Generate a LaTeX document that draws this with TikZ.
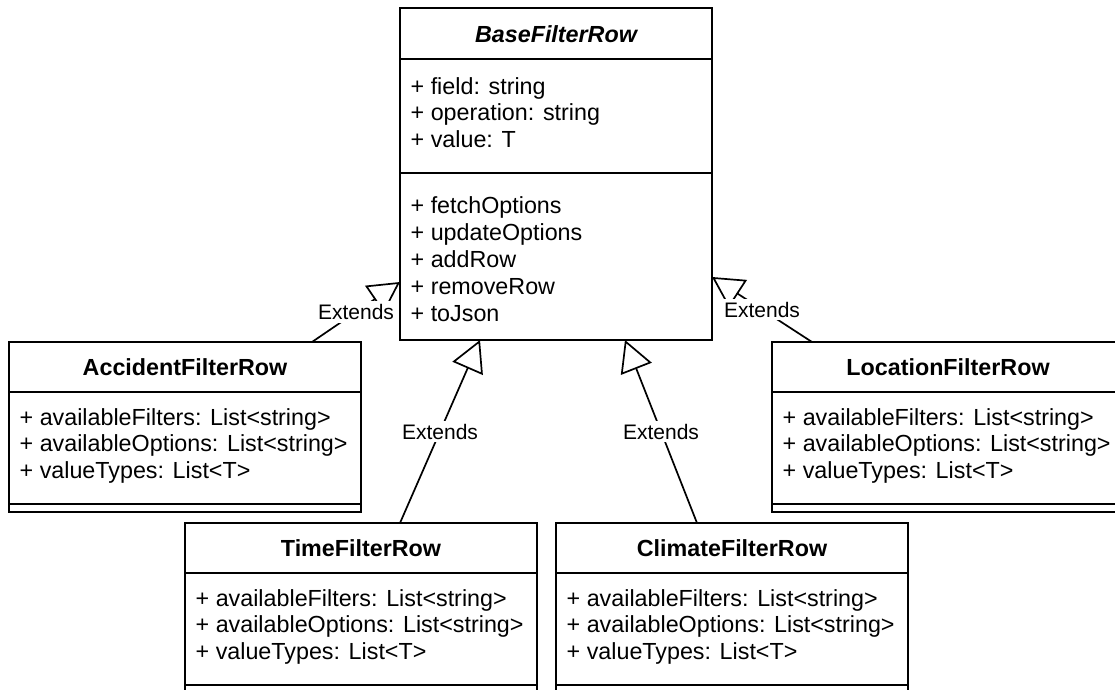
\documentclass[tikz,border=0pt]{standalone}
\usepackage{fontspec}
\setmainfont{Liberation Sans}
\usetikzlibrary{arrows.meta}

% one subclass box: name, x, y (top left), title
\newcommand\umlsub[4]{%
  \node[classbox] (#1) at (#2,#3) {};
  \draw[rule] (#1.north west) ++(0,50) -- ++(352,0);
  \draw[rule] (#1.north west) ++(0,162) -- ++(352,0);
  \path (#1.north) ++(0,33.5) node[ctitle] (#1-title) {#4};
  \path (#1.north west) ++(10.5,83) node[attr] (#1-a1) {+ availableFilters: List<string>}
        ++(0,26.8) node[attr] (#1-a2) {+ availableOptions: List<string>}
        ++(0,26.8) node[attr] (#1-a3) {+ valueTypes: List<T>};
}

\begin{document}
\begin{tikzpicture}[
  x=1pt, y=-1pt,
  rule/.style={line width=1.7pt},
  classbox/.style={draw, line width=1.7pt, rectangle, inner sep=0pt, outer sep=0pt,
    anchor=north west, minimum width=352pt, minimum height=170pt},
  ctitle/.style={anchor=base, inner sep=0pt, font=\fontsize{23.3}{26.8}\selectfont\bfseries},
  attr/.style={anchor=base west, inner sep=0pt, font=\fontsize{23.3}{26.8}\selectfont},
  ext/.style={line width=1.7pt, -{Triangle[open, length=31pt, width=33pt]}},
  elabel/.style={fill=white, inner sep=3pt, font=\fontsize{21}{25}\selectfont},
]
\useasboundingbox (0,0) rectangle (1115,689);
\clip (0,0) rectangle (1115,689);

% abstract base class
\node[classbox, minimum width=312pt, minimum height=332pt] (base) at (400,8) {};
\draw[rule] (base.north west) ++(0,51) -- ++(312,0);
\draw[rule] (base.north west) ++(0,165) -- ++(312,0);
\path (base.north) ++(0,34.5) node[ctitle, font=\fontsize{23.3}{26.8}\selectfont\bfseries\itshape] (base-title) {BaseFilterRow};
\path (base.north west) ++(10.5,86) node[attr] (base-a1) {+ field: string}
      ++(0,26.8) node[attr] (base-a2) {+ operation: string}
      ++(0,26.8) node[attr] (base-a3) {+ value: T};
\path (base.north west) ++(10.5,205) node[attr] (base-m1) {+ fetchOptions}
      ++(0,27) node[attr] (base-m2) {+ updateOptions}
      ++(0,27) node[attr] (base-m3) {+ addRow}
      ++(0,27) node[attr] (base-m4) {+ removeRow}
      ++(0,27) node[attr] (base-m5) {+ toJson};

% subclasses
\umlsub{acc}{9}{342}{AccidentFilterRow}
\umlsub{loc}{772}{342}{LocationFilterRow}
\umlsub{time}{185}{523}{TimeFilterRow}
\umlsub{clim}{556}{523}{ClimateFilterRow}

% attachment points of the generalisation connectors
\path (acc.north west)  ++(303,0)  coordinate (acc-s);
\path (base.north west) ++(0,274)  coordinate (acc-e);
\path (loc.north west)  ++(40,0)   coordinate (loc-s);
\path (base.north east) ++(0,269)  coordinate (loc-e);
\path (time.north west) ++(215,0)  coordinate (time-s);
\path (base.south west) ++(80,0)   coordinate (time-e);
\path (clim.north west) ++(141,0)  coordinate (clim-s);
\path (base.south west) ++(225,0)  coordinate (clim-e);

\draw[ext] (acc-s)  -- node[elabel] (acc-l)  {Extends} (acc-e);
\draw[ext] (loc-s)  -- node[elabel] (loc-l)  {Extends} (loc-e);
\draw[ext] (time-s) -- node[elabel] (time-l) {Extends} (time-e);
\draw[ext] (clim-s) -- node[elabel] (clim-l) {Extends} (clim-e);
\end{tikzpicture}
\end{document}
